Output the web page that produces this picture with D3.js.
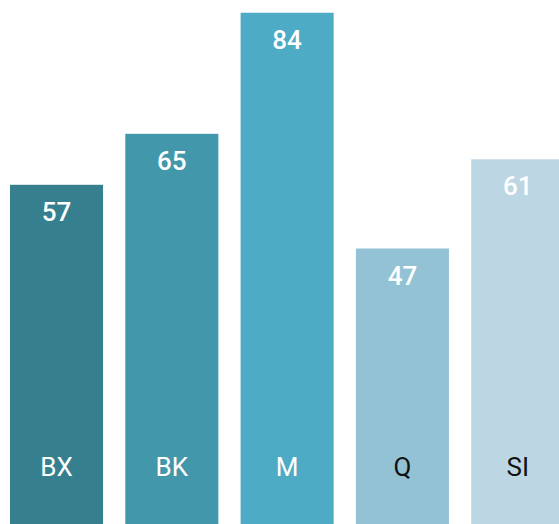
<!DOCTYPE html>
<html>
<head>
<meta charset="utf-8">
<script src="https://cdn.jsdelivr.net/npm/d3@7"></script>
<style>
  html, body { margin: 0; padding: 0; background: #fff; overflow: hidden; }
  svg { display: block; font-family: Roboto, "Liberation Sans", sans-serif; }
</style>
</head>
<body>
<svg width="559" height="524"></svg>
<script>
var categories = ["BX", "BK", "M", "Q", "SI"];
var values = [57, 65, 84, 47, 61];
var colors = ["#367f8e", "#4397ab", "#4dabc5", "#92c2d4", "#bdd6e3"];
var labelColors = ["#ffffff", "#ffffff", "#ffffff", "#111111", "#111111"];

var svg = d3.select("svg");

var data = categories.map(function(c, i) {
  return { cat: c, value: values[i], color: colors[i], labelColor: labelColors[i] };
});

// the plot runs past the bottom/right edge of the window, like the original crop
var x = d3.scaleBand()
  .domain(categories)
  .range([10, 564.25])
  .paddingInner(0.193)
  .paddingOuter(0);

var y = d3.scaleLinear()
  .domain([0, 86])
  .range([548, 0]);

var bar = svg.selectAll(".bar")
  .data(data)
  .enter()
  .append("g")
  .attr("class", "bar");

bar.append("rect")
  .attr("x", function(d) { return x(d.cat); })
  .attr("y", function(d) { return y(d.value); })
  .attr("width", x.bandwidth())
  .attr("height", function(d) { return y(0) - y(d.value); })
  .attr("fill", function(d) { return d.color; });

// value labels
bar.append("text")
  .attr("x", function(d) { return x(d.cat) + x.bandwidth() / 2; })
  .attr("y", function(d) { return y(d.value) + 36; })
  .attr("text-anchor", "middle")
  .attr("font-size", 26)
  .attr("font-weight", 500)
  .attr("fill", "#ffffff")
  .text(function(d) { return d.value; });

// category labels
bar.append("text")
  .attr("x", function(d) { return x(d.cat) + x.bandwidth() / 2; })
  .attr("y", 476)
  .attr("text-anchor", "middle")
  .attr("font-size", 26)
  .attr("fill", function(d) { return d.labelColor; })
  .text(function(d) { return d.cat; });
</script>
</body>
</html>
